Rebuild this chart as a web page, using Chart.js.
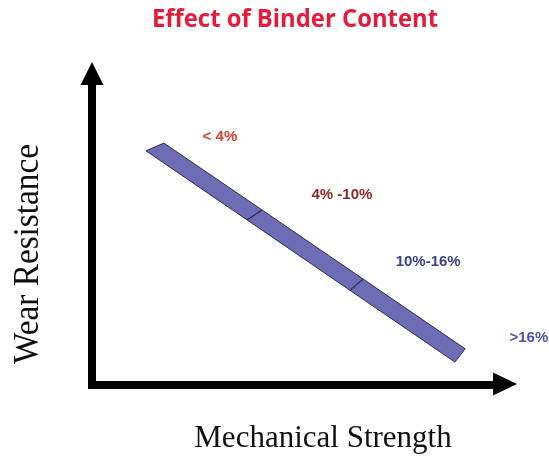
<!DOCTYPE html>
<html>
<head>
<meta charset="utf-8">
<script src="https://cdn.jsdelivr.net/npm/chart.js@4"></script>
<style>
    html, body { margin: 0; padding: 0; background: #ffffff; }
    #wrap { width: 549px; height: 458px; }
</style>
</head>
<body>
<div id="wrap"><canvas id="binderChart" width="549" height="458"></canvas></div>
<script>
// Binder content ranges (labels) and where each one sits on the chart
const rangeLabels = ['< 4%', '4% -10%', '10%-16%', '>16%'];
const labelX = [30.1, 58.8, 79.1, 102.8];
const labelY = [76.8, 58.8, 38.1, 14.6];
const labelColors = ['#d8402c', '#8c2b25', '#3c3f8c', '#4a52a8'];

// Band edges (strength, wear) - upper and lower side, split at range boundaries
const upperX = [16.9, 40.0, 63.8, 87.8];
const upperY = [74.9, 54.2, 32.8, 11.2];
const lowerX = [12.7, 36.5, 60.7, 85.4];
const lowerY = [72.5, 51.1, 29.3, 7.1];

const titleText = 'Effect of Binder Content';
const xTitle = 'Mechanical Strength';
const yTitle = 'Wear Resistance';

// closed outline of the band
const bandPoints = [];
upperX.forEach((x, i) => bandPoints.push({ x: x, y: upperY[i] }));
for (let i = lowerX.length - 1; i >= 0; i--) {
    bandPoints.push({ x: lowerX[i], y: lowerY[i] });
}
bandPoints.push({ x: upperX[0], y: upperY[0] });

const datasets = [{
    data: bandPoints,
    order: 2,
    showLine: true,
    borderColor: '#2b2b50',
    borderWidth: 1,
    backgroundColor: '#6d6db6',
    fill: 'shape',
    pointRadius: 0,
    tension: 0
}];

// divider lines between ranges
for (let i = 1; i < upperX.length - 1; i++) {
    datasets.push({
        data: [{ x: upperX[i], y: upperY[i] }, { x: lowerX[i], y: lowerY[i] }],
        order: 1,
        showLine: true,
        borderColor: '#2b2b50',
        borderWidth: 1.2,
        fill: false,
        pointRadius: 0
    });
}

// axes arrows, titles and range labels
const decorPlugin = {
    id: 'decor',
    afterDatasetsDraw(chart) {
        const { ctx, chartArea, scales } = chart;
        const ax = chartArea.left, ay = chartArea.bottom;
        ctx.save();
        ctx.fillStyle = '#000';
        // vertical axis
        ctx.fillRect(ax - 4, chartArea.top + 23, 8, ay - chartArea.top - 23 + 4);
        ctx.beginPath();
        ctx.moveTo(ax, chartArea.top);
        ctx.lineTo(ax - 11.5, chartArea.top + 23);
        ctx.lineTo(ax + 11.5, chartArea.top + 23);
        ctx.closePath();
        ctx.fill();
        // horizontal axis
        ctx.fillRect(ax - 4, ay - 4, chartArea.right - 24 - ax + 4, 8);
        ctx.beginPath();
        ctx.moveTo(chartArea.right, ay - 1);
        ctx.lineTo(chartArea.right - 24, ay - 12.5);
        ctx.lineTo(chartArea.right - 24, ay + 10.5);
        ctx.closePath();
        ctx.fill();

        // range labels
        ctx.textAlign = 'center';
        ctx.textBaseline = 'middle';
        ctx.font = 'bold 15px "Liberation Sans", Arial, sans-serif';
        rangeLabels.forEach((t, i) => {
            ctx.fillStyle = labelColors[i];
            ctx.fillText(t, scales.x.getPixelForValue(labelX[i]), scales.y.getPixelForValue(labelY[i]));
        });

        // title
        ctx.fillStyle = '#e31b3d';
        ctx.font = 'bold 25px "Open Sans", sans-serif';
        ctx.textBaseline = 'alphabetic';
        ctx.fillText(titleText, 295, 27, 286);

        // axis titles
        ctx.fillStyle = '#111';
        ctx.font = '31px "Liberation Serif", "Times New Roman", serif';
        ctx.fillText(xTitle, 323, 447, 264);
        ctx.translate(38, 254);
        ctx.rotate(-Math.PI / 2);
        ctx.font = '35px "Liberation Serif", "Times New Roman", serif';
        ctx.fillText(yTitle, 0, 0, 220);
        ctx.restore();
    }
};

new Chart(document.getElementById('binderChart'), {
    type: 'scatter',
    data: { datasets: datasets },
    options: {
        responsive: false,
        animation: false,
        layout: { padding: { left: 92, right: 32, top: 62, bottom: 73 } },
        plugins: {
            legend: { display: false },
            tooltip: { enabled: false }
        },
        scales: {
            x: { type: 'linear', min: 0, max: 100, display: false },
            y: { type: 'linear', min: 0, max: 100, display: false }
        }
    },
    plugins: [decorPlugin]
});
</script>
</body>
</html>
